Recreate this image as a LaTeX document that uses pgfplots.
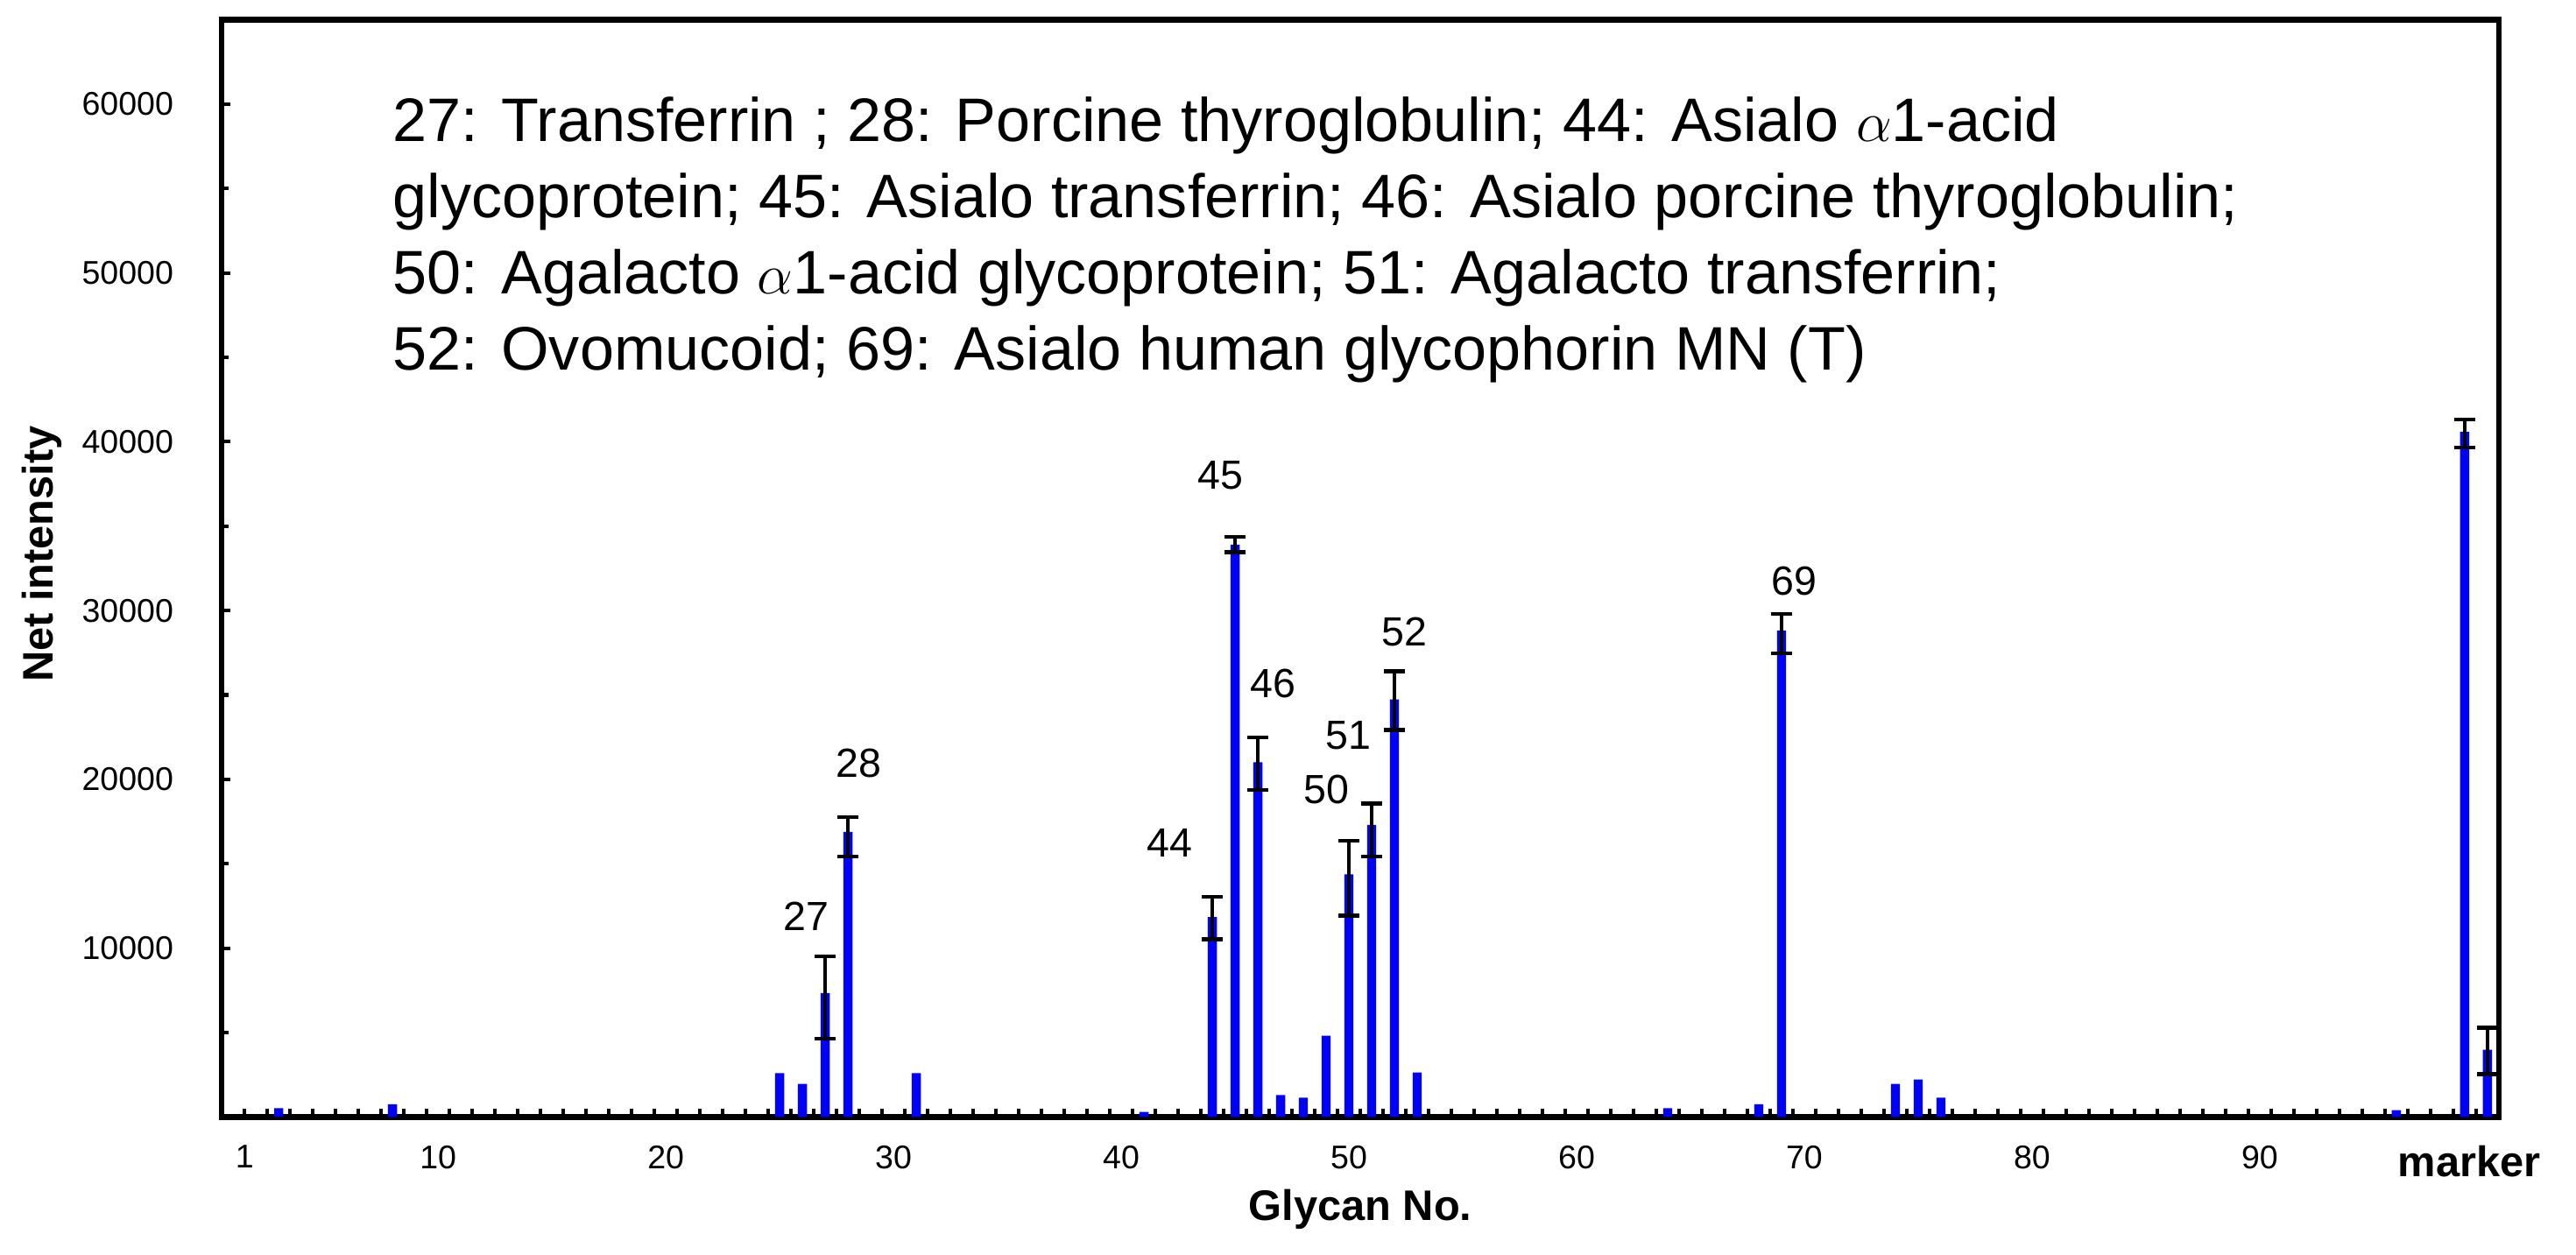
\documentclass[border=0pt]{standalone}
\usepackage{pgfplots}
\pgfplotsset{compat=1.18}
\usepackage{fontspec}
\setmainfont{Liberation Sans}
\definecolor{barblue}{RGB}{0,0,255}

\begin{document}
\begin{tikzpicture}
\begin{axis}[
    scale only axis,
    width=693pt, height=334pt,
    xmin=0.5, xmax=100.5,
    ymin=0, ymax=65000,
    clip=false,
    scaled y ticks=false,
    axis line style={line width=1.7pt},
    tick align=inside,
    xtick pos=bottom, ytick pos=left,
    every tick/.style={black, line width=1.1pt},
    major tick length=2.6pt, minor tick length=2pt,
    xtick={0.5,1.5,...,100.5},
    xticklabels={},
    extra x ticks={1.5,10,20,30,40,50,60,70,80,90,99.2},
    extra x tick labels={1,10,20,30,40,50,60,70,80,90,{\bfseries\fontsize{13}{15}\selectfont marker}},
    extra x tick style={major tick length=0pt,
        tick label style={yshift=-5.2pt, font=\fontsize{10}{12}\selectfont}},
    ytick={0,10000,20000,30000,40000,50000,60000},
    yticklabels={,10000,20000,30000,40000,50000,60000},
    minor ytick={5000,15000,25000,35000,45000,55000,65000},
    yticklabel style={xshift=-11.2pt, font=\fontsize{10}{12}\selectfont},
    xlabel={Glycan No.},
    ylabel={Net intensity},
    xlabel style={at={(axis description cs:0.5,-0.094)}, anchor=base,
        font=\bfseries\fontsize{13}{15}\selectfont},
    ylabel style={at={(axis description cs:-0.0743,0.513)}, anchor=base, rotate=0,
        font=\bfseries\fontsize{13}{15}\selectfont},
]

% mean intensities
\addplot[ybar, bar width=0.4, fill=barblue, draw=none] table {
x y
3 520
8 750
25 2600
26 1960
27 7340
28 16890
31 2600
41 300
44 11850
45 33900
46 21020
47 1300
48 1150
49 4810
50 14370
51 17300
52 24740
53 2630
64 520
68 750
69 28820
74 1960
75 2220
76 1150
96 400
99 40590
100 3990
};

% error bars (only where shown)
\addplot[black, draw=none, mark=none, forget plot,
    error bars/.cd, y dir=both, y explicit, error mark=-,
    error bar style={draw=black, solid, line width=1.1pt},
    error mark options={rotate=90, color=black, draw=black, solid, line width=1.2pt, mark size=3.2pt}]
table[x=x, y=y, y error plus=ep, y error minus=em] {
x y ep em
27 7340 2170 2690
28 16890 870 1470
44 11850 1200 1330
45 33900 460 450
46 21020 1460 1650
50 14370 2000 2440
51 17300 1270 1860
52 24740 1670 1810
69 28820 980 1360
99 40590 720 920
100 3990 1300 1450
};

\begin{scope}[every node/.style={font=\fontsize{12.4}{14}\selectfont}]
\node at (axis cs:26.15,11870) {27};
\node at (axis cs:28.46,20980) {28};
\node at (axis cs:42.13,16245) {44};
\node at (axis cs:44.37,38030) {45};
\node at (axis cs:46.68,25670) {46};
\node at (axis cs:49.03,19420) {50};
\node at (axis cs:49.98,22610) {51};
\node at (axis cs:52.45,28750) {52};
\node at (axis cs:69.55,31740) {69};
\end{scope}

\begin{scope}[every node/.style={anchor=base west, inner sep=0pt, font=\fontsize{18.7}{23}\selectfont}]
\node at (rel axis cs:0.075,0.8894) {27: Transferrin ; 28: Porcine thyroglobulin; 44: Asialo $\alpha$1-acid};
\node at (rel axis cs:0.075,0.8197) {glycoprotein; 45: Asialo transferrin; 46: Asialo porcine thyroglobulin;};
\node at (rel axis cs:0.075,0.7501) {50: Agalacto $\alpha$1-acid glycoprotein; 51: Agalacto transferrin;};
\node at (rel axis cs:0.075,0.6805) {52: Ovomucoid; 69: Asialo human glycophorin MN (T)};
\end{scope}

\path (rel axis cs:0,0) ++(-67.5pt,-42pt) rectangle ++(784pt,382pt);
\end{axis}
\end{tikzpicture}
\end{document}
